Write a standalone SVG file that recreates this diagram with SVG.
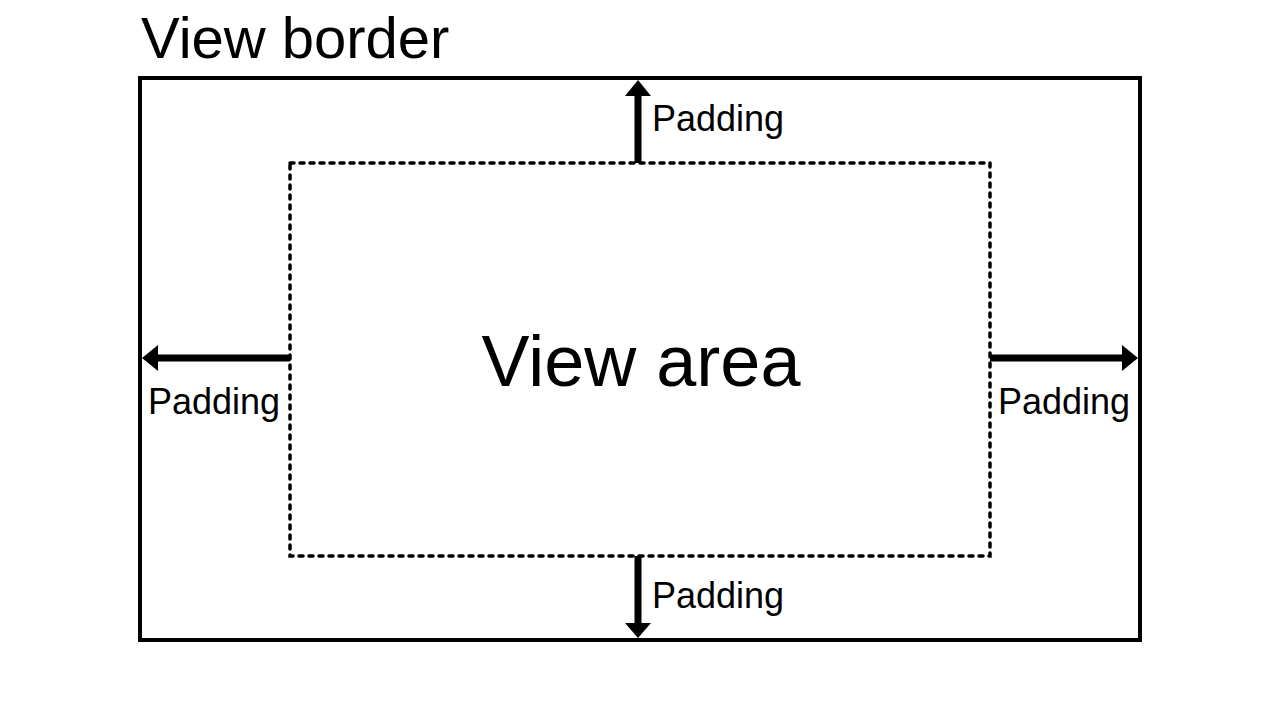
<svg xmlns="http://www.w3.org/2000/svg" width="1280" height="720" viewBox="0 0 1280 720">
<style>
text{font-family:"Liberation Sans",Arial,sans-serif;fill:#000}
.pad{font-size:36px}
.shaft{stroke:#000;stroke-width:7;fill:none}
.head{fill:#000}
</style>
<rect width="1280" height="720" fill="#fff"/>
<g id="view-border">
<rect x="140" y="78" width="1000" height="562" fill="none" stroke="#000" stroke-width="4"/>
<text x="141" y="58" font-size="58">View border</text>
</g>
<g id="view-area">
<rect x="290" y="163" width="700" height="393" fill="none" stroke="#000" stroke-width="3.5" stroke-dasharray="4 6" stroke-linecap="round"/>
<text x="641" y="386" font-size="72" text-anchor="middle">View area</text>
</g>
<g id="connectors">
<line class="shaft" x1="638" y1="163" x2="638" y2="94"/>
<polygon class="head" points="638,80 651,96 625,96"/>
<line class="shaft" x1="638" y1="556" x2="638" y2="626"/>
<polygon class="head" points="638,638 651,623 625,623"/>
<line class="shaft" x1="290" y1="358" x2="156" y2="358"/>
<polygon class="head" points="142,358 158,345 158,371"/>
<line class="shaft" x1="990" y1="358" x2="1124" y2="358"/>
<polygon class="head" points="1138,358 1122,345 1122,371"/>
</g>
<g id="labels">
<text class="pad" x="652" y="131">Padding</text>
<text class="pad" x="148" y="414">Padding</text>
<text class="pad" x="998" y="414">Padding</text>
<text class="pad" x="652" y="608">Padding</text>
</g>
</svg>
